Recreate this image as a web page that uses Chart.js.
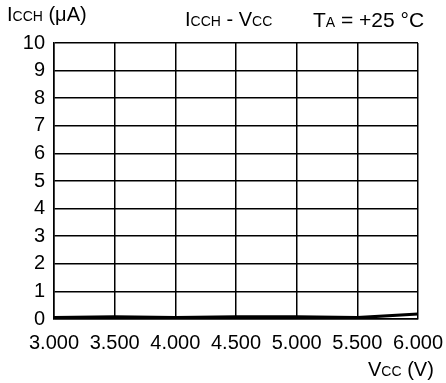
<!DOCTYPE html>
<html>
<head>
<meta charset="utf-8">
<script src="https://cdn.jsdelivr.net/npm/chart.js@4"></script>
<style>
  body { margin: 0; background: #fff; }
  #wrap { position: relative; width: 446px; height: 383px; }
  .lbl { position: absolute; font-family: "Liberation Sans", Arial, sans-serif; font-size: 20px; color: #000; white-space: nowrap; line-height: 1; }
  .lbl small { font-size: 14px; }
</style>
</head>
<body>
<div id="wrap">
  <canvas id="icchChart" width="446" height="383"></canvas>
  <div class="lbl" style="left:7px; top:4px;">I<small>CCH</small> (μA)</div>
  <div class="lbl" style="left:185px; top:9px;">I<small>CCH</small> - V<small>CC</small></div>
  <div class="lbl" style="left:313px; top:9px; font-size:21px;">T<small>A</small> = +25 °C</div>
  <div class="lbl" style="left:368px; top:359px;">V<small>CC</small> (V)</div>
</div>
<script>
// Vcc (V) vs Icch (uA)
var vcc = [3.0, 3.5, 4.0, 4.5, 5.0, 5.5, 6.0];
var icch = [0.05, 0.08, 0.05, 0.08, 0.08, 0.05, 0.18];

var ctx = document.getElementById('icchChart');
var myChart = new Chart(ctx, {
    type: 'line',
    data: {
        datasets: [{
            label: 'ICCH',
            data: vcc.map(function (v, i) { return { x: v, y: icch[i] }; }),
            borderColor: '#000',
            borderWidth: 3,
            pointRadius: 0,
            tension: 0,
            fill: false
        }]
    },
    options: {
        responsive: false,
        animation: false,
        layout: { padding: { top: 43, right: 28, left: 0, bottom: 0 } },
        plugins: { legend: { display: false }, tooltip: { enabled: false } },
        scales: {
            x: {
                type: 'linear',
                min: 3, max: 6,
                afterFit: function (s) {
                    s.height = 64;
                    s.paddingLeft = 0;
                    s.paddingRight = 0;
                },
                ticks: {
                    stepSize: 0.5,
                    color: '#000',
                    padding: 12,
                    maxRotation: 0,
                    autoSkip: false,
                    font: { family: 'Liberation Sans', size: 20 },
                    callback: function (v) { return v.toFixed(3); }
                },
                grid: { color: '#000', lineWidth: 1.5, drawTicks: false },
                border: { color: '#000', width: 1.5 }
            },
            y: {
                min: 0, max: 10,
                afterFit: function (s) {
                    s.width = 54;
                    s.paddingTop = 0;
                    s.paddingBottom = 0;
                },
                ticks: {
                    stepSize: 1,
                    color: '#000',
                    padding: 9,
                    font: { family: 'Liberation Sans', size: 20 }
                },
                grid: { color: '#000', lineWidth: 1.5, drawTicks: false },
                border: { color: '#000', width: 1.5 }
            }
        }
    }
});
</script>
</body>
</html>
